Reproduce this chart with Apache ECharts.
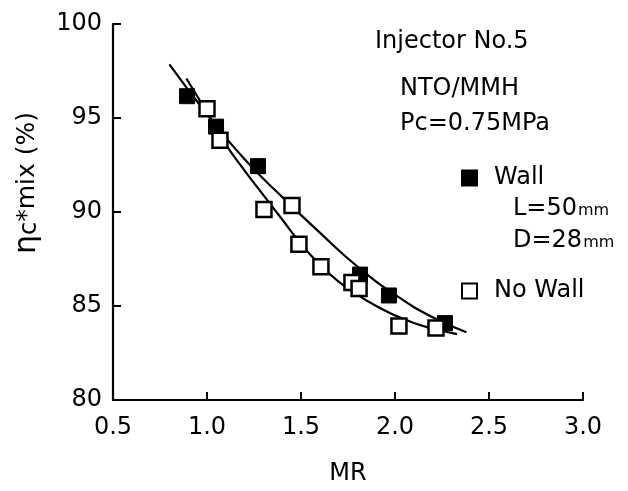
<!DOCTYPE html>
<html>
<head>
<meta charset="utf-8">
<script src="https://cdn.jsdelivr.net/npm/echarts@6/dist/echarts.min.js"></script>
<style>html,body{margin:0;padding:0;background:#fff}#c{width:628px;height:491px}</style>
</head>
<body>
<div id="c"></div>
<script>
// Data
const wallMR   = [0.894, 1.048, 1.271, 1.814, 1.968, 2.266];
const wallEta  = [96.16, 94.54, 92.44, 86.67, 85.56, 84.09];
const noWallMR  = [1.000, 1.069, 1.303, 1.452, 1.489, 1.606, 1.771, 1.809, 2.021, 2.218];
const noWallEta = [95.49, 93.81, 90.13, 90.34, 88.29, 87.09, 86.25, 85.93, 83.94, 83.83];
// fitted curves
const wallCurveMR   = [0.80, 1.00, 1.20, 1.40, 1.60, 1.80, 2.00, 2.20, 2.38];
const wallCurveEta  = [97.85, 95.20, 92.80, 90.80, 88.90, 87.10, 85.60, 84.40, 83.60];
const noWallCurveMR  = [0.89, 1.00, 1.10, 1.20, 1.30, 1.40, 1.50, 1.60, 1.70, 1.80, 1.90, 2.00, 2.10, 2.20, 2.33];
const noWallCurveEta = [97.10, 95.30, 93.60, 92.20, 90.90, 89.60, 88.30, 87.20, 86.30, 85.60, 85.00, 84.50, 84.10, 83.80, 83.50];
const xTicks = [0.5, 1.0, 1.5, 2.0, 2.5, 3.0];
const yTicks = [80, 85, 90, 95, 100];

const zip = (a, b) => a.map((v, i) => [v, b[i]]);
const FONT = 'DejaVu Sans';
const chart = echarts.init(document.getElementById('c'), null, {renderer: 'canvas'});
const axisCommon = {
  axisLine: {show: true, lineStyle: {color: '#000', width: 2.2}},
  axisTick: {show: true, inside: true, length: 8, lineStyle: {color: '#000', width: 2}},
  splitLine: {show: false},
  axisLabel: {color: '#000', fontFamily: FONT, fontSize: 24}
};
const txt = (s, l, t) => ({type: 'text', left: l, top: t, style: {text: s, fill: '#000', font: '24px "DejaVu Sans"'}});
const mmText = (s, l, t) => ({type: 'text', left: l, top: t, style: {text: '{a|' + s + '}{b|mm}',
  rich: {a: {fill: '#000', fontFamily: FONT, fontSize: 24, lineHeight: 24, verticalAlign: 'bottom'},
         b: {fill: '#000', fontFamily: FONT, fontSize: 16, lineHeight: 16, verticalAlign: 'bottom', padding: [0, 0, 2, 1]}}}});
chart.setOption({
  animation: false,
  backgroundColor: '#fff',
  grid: {left: 113, right: 45, top: 24, bottom: 86},
  xAxis: Object.assign({}, axisCommon, {
    type: 'value', min: xTicks[0], max: xTicks[xTicks.length - 1], interval: 0.5,
    name: 'MR', nameLocation: 'middle', nameGap: 62,
    nameTextStyle: {color: '#000', fontFamily: FONT, fontSize: 24},
    axisLabel: Object.assign({}, axisCommon.axisLabel, {margin: 16, formatter: v => v.toFixed(1)})
  }),
  yAxis: Object.assign({}, axisCommon, {
    type: 'value', min: yTicks[0], max: yTicks[yTicks.length - 1], interval: 5,
    axisLabel: Object.assign({}, axisCommon.axisLabel, {margin: 11})
  }),
  legend: [
    {data: ['Wall'], left: 461, top: 166, itemWidth: 15, itemHeight: 15, padding: 0,
     textStyle: {color: '#000', fontFamily: FONT, fontSize: 24, padding: [0, 0, 0, 12]}},
    {data: ['No Wall'], left: 461, top: 279, itemWidth: 15, itemHeight: 15, padding: 0,
     textStyle: {color: '#000', fontFamily: FONT, fontSize: 24, padding: [0, 0, 0, 12]}}
  ],
  graphic: [
    txt('Injector No.5', 375, 30),
    txt('NTO/MMH', 400, 77),
    txt('Pc=0.75MPa', 400, 112),
    mmText('L=50', 513, 197),
    mmText('D=28', 513, 229),
    {type: 'text', x: 12, y: 254, rotation: Math.PI / 2,
     style: {text: '{e|η}{c|c}{a|*mix (%)}',
       rich: {e: {fill: '#000', fontFamily: FONT, fontSize: 30},
              c: {fill: '#000', fontFamily: FONT, fontSize: 24, verticalAlign: 'bottom'},
              a: {fill: '#000', fontFamily: FONT, fontSize: 25}}}}
  ],
  series: [
    {name: 'Wall', type: 'scatter', symbol: 'rect', symbolSize: 15,
     itemStyle: {color: '#000', borderColor: '#000', borderWidth: 1, opacity: 1},
     data: zip(wallMR, wallEta), z: 5},
    {name: 'No Wall', type: 'scatter', symbol: 'rect', symbolSize: 15,
     itemStyle: {color: '#fff', borderColor: '#000', borderWidth: 2.5, opacity: 1},
     data: zip(noWallMR, noWallEta), z: 6},
    {name: 'Wall fit', type: 'line', smooth: true, showSymbol: false,
     lineStyle: {color: '#000', width: 2.2}, data: zip(wallCurveMR, wallCurveEta), z: 3},
    {name: 'No Wall fit', type: 'line', smooth: true, showSymbol: false,
     lineStyle: {color: '#000', width: 2.2}, data: zip(noWallCurveMR, noWallCurveEta), z: 3}
  ]
});
</script>
</body>
</html>
